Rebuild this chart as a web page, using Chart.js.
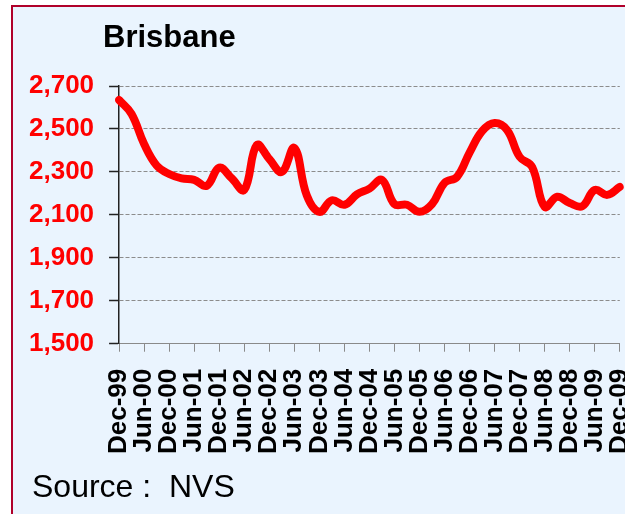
<!DOCTYPE html>
<html>
<head>
<meta charset="utf-8">
<script src="https://cdn.jsdelivr.net/npm/chart.js@4"></script>
<style>
  html, body { margin: 0; padding: 0; width: 625px; height: 514px; overflow: hidden; background: #ffffff; }
  #frame { position: absolute; left: 11px; top: 5px; width: 700px; height: 600px; border: 2px solid #B0002A; background: #EAF4FE; }
  #wrap { position: absolute; left: 0; top: 0; width: 668px; height: 514px; }
  .txt { position: absolute; font-family: "Liberation Sans", Arial, sans-serif; color: #000; line-height: 30px; white-space: nowrap; }
  #title { left: 103px; top: 22px; font-size: 31px; font-weight: bold; }
  #source { left: 32px; top: 471px; font-size: 32px; }
</style>
</head>
<body>
<div id="frame"></div>
<div id="wrap"><canvas id="c"></canvas></div>
<div class="txt" id="title">Brisbane</div>
<div class="txt" id="source">Source :&nbsp; NVS</div>
<script>
const categories = [
  "Dec-99","Mar-00","Jun-00","Sep-00","Dec-00","Mar-01","Jun-01","Sep-01",
  "Dec-01","Mar-02","Jun-02","Sep-02","Dec-02","Mar-03","Jun-03","Sep-03",
  "Dec-03","Mar-04","Jun-04","Sep-04","Dec-04","Mar-05","Jun-05","Sep-05",
  "Dec-05","Mar-06","Jun-06","Sep-06","Dec-06","Mar-07","Jun-07","Sep-07",
  "Dec-07","Mar-08","Jun-08","Sep-08","Dec-08","Mar-09","Jun-09","Sep-09",
  "Dec-09"
];
const brisbane = [
  2635, 2570, 2430, 2330, 2290, 2270, 2263, 2235,
  2320, 2270, 2216, 2425, 2360, 2300, 2412, 2190,
  2114, 2168, 2147, 2195, 2222, 2263, 2150, 2147,
  2114, 2150, 2249, 2277, 2390, 2490, 2528, 2495,
  2370, 2323, 2137, 2184, 2155, 2140, 2216, 2193,
  2230
];
const tickLabels = ["Dec-99","Jun-00","Dec-00","Jun-01","Dec-01","Jun-02","Dec-02","Jun-03","Dec-03","Jun-04","Dec-04","Jun-05","Dec-05","Jun-06","Dec-06","Jun-07","Dec-07","Jun-08","Dec-08","Jun-09","Dec-09"];
const yMin = 1500, yMax = 2700, yStep = 200;

const FONT = '"Liberation Sans", Arial, sans-serif';

new Chart(document.getElementById('c'), {
  type: 'line',
  data: {
    labels: categories,
    datasets: [{
      data: brisbane,
      borderColor: '#FF0000',
      borderWidth: 8,
      pointRadius: 0,
      tension: 0.4,
      borderCapStyle: 'round',
      borderJoinStyle: 'round',
      fill: false
    }]
  },
  options: {
    responsive: true,
    maintainAspectRatio: false,
    animation: false,
    devicePixelRatio: 1,
    layout: { padding: { left: 14, right: 0, top: 86, bottom: 43 } },
    plugins: { legend: { display: false }, tooltip: { enabled: false }, title: { display: false } },
    scales: {
      x: {
        type: 'category',
        offset: false,
        grid: {
          drawOnChartArea: false,
          drawTicks: true,
          tickLength: 8,
          tickColor: '#8a8a8a',
          tickWidth: 1
        },
        border: { display: true, color: '#8a8a8a', width: 1 },
        ticks: {
          autoSkip: false,
          maxRotation: 90,
          minRotation: 90,
          padding: 17,
          color: '#000000',
          font: { family: FONT, size: 26, weight: 'bold' },
          callback: function(value, index) {
            const lab = categories[index];
            return tickLabels.includes(lab) ? lab : null;
          }
        }
      },
      y: {
        min: yMin,
        max: yMax,
        grid: {
          color: '#8c8c8c',
          lineWidth: 1,
          drawTicks: true,
          tickLength: 10,
          tickColor: '#222222',
          tickWidth: 1.5,
          tickBorderDash: []
        },
        border: { display: true, color: '#222222', width: 1.5, dash: [4, 2] },
        ticks: {
          stepSize: yStep,
          padding: 15,
          color: '#FF0000',
          font: { family: FONT, size: 26, weight: 'bold' },
          callback: v => v.toLocaleString('en-US')
        }
      }
    }
  }
});
</script>
</body>
</html>
